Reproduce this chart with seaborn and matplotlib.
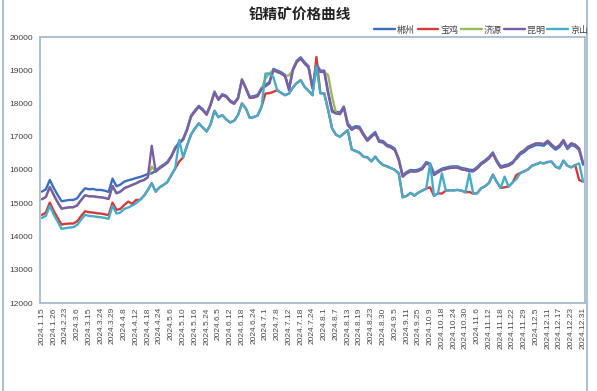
import numpy as np
import pandas as pd
import matplotlib
matplotlib.use("Agg")
import matplotlib.pyplot as plt
from matplotlib.lines import Line2D
import seaborn as sns

cities = ["郴州", "宝鸡", "济源", "昆明", "京山"]
colors = ["#3c6ec0", "#d23b38", "#9bbb59", "#7b5ca8", "#46adc8"]

tick_labels = ['2024.1.15', '2024.1.26', '2024.2.23', '2024.3.6', '2024.3.15', '2024.3.24', '2024.3.29',
               '2024.4.8', '2024.4.12', '2024.4.18', '2024.4.24', '2024.5.6', '2024.5.10', '2024.5.16',
               '2024.5.24', '2024.6.5', '2024.6.12', '2024.6.18', '2024.6.24', '2024.7.1', '2024.7.8',
               '2024.7.12', '2024.7.18', '2024.7.24', '2024.8.1', '2024.8.7', '2024.8.13', '2024.8.19',
               '2024.8.23', '2024.8.30', '2024.9.5', '2024.9.11', '2024.9.25', '2024.10.9', '2024.10.18',
               '2024.10.24', '2024.10.30', '2024.11.6', '2024.11.12', '2024.11.18', '2024.11.22',
               '2024.11.29', '2024.12.5', '2024.12.11', '2024.12.17', '2024.12.23', '2024.12.31']

chenzhou = [15350, 15420, 15700, 15460, 15250, 15060, 15080, 15100, 15100, 15150, 15320, 15450, 15420, 15430,
            15400, 15400, 15380, 15340, 15740, 15510, 15560, 15650, 15690, 15720, 15760, 15790,
            15830, 15880, 15900, 15980, 16080, 16160, 16250, 16430, 16680, 16830, 16940, 17230, 17630, 17790,
            17930, 17830, 17690, 17980, 18360, 18140, 18280, 18230, 18090, 18020, 18180, 18730, 18480, 18200,
            18220, 18260, 18470, 18560, 18640, 19040, 18990, 18940, 18860, 18440, 19040, 19290, 19390, 19240,
            19120, 18490, 19190, 18990, 18990, 18340, 17790, 17750, 17730, 17910, 17400, 17260, 17320, 17300,
            17090, 16920, 17040, 17140, 16890, 16870, 16760, 16720, 16640, 16340, 15840, 15940, 16000, 15990,
            16010, 16070, 16240, 16190, 15900, 15970, 16040, 16070, 16100, 16110, 16110, 16060, 16040, 16010,
            16000, 16090, 16210, 16290, 16390, 16530, 16290, 16110, 16140, 16170, 16240,
            16330, 16470, 16540, 16650, 16700, 16750, 16750, 16730, 16830, 16710, 16610, 16690, 16850, 16630,
            16750, 16710, 16600, 16160]

baoji = [14650, 14720, 15020, 14770, 14560, 14360, 14380, 14390, 14390, 14460, 14620, 14760, 14730, 14720,
         14700, 14690, 14670, 14640, 15020, 14800, 14830, 14950, 15050, 14980, 15100,
         15100, 15220, 15400, 15600, 15350, 15480, 15550, 15640, 15850, 16050, 16250, 16380, 16730, 17060,
         17250, 17400, 17280, 17160, 17370, 17780, 17590, 17650, 17520, 17430, 17480, 17650, 18000, 17850, 17570,
         17590, 17640, 17900, 18300, 18310, 18350, 18400, 18320, 18250, 18300, 18480, 18620, 18700, 18500,
         18380, 18250, 19400, 18310, 18300, 17800, 17250, 17060, 17000, 17100, 17200, 16620, 16570, 16520,
         16400, 16380, 16260, 16400, 16250, 16150, 16110, 16060, 16000, 15900, 15180, 15220, 15310, 15230,
         15320, 15380, 15440, 15480, 15220, 15300, 15290, 15380, 15390, 15390, 15400, 15380, 15330, 15340,
         15290, 15300, 15450, 15510, 15610, 15860, 15640, 15460, 15480, 15500, 15620, 15850, 15910, 15960,
         16020, 16130, 16170, 16220, 16200, 16240, 16250, 16100, 16050, 16280, 16130, 16080, 16150, 15700, 15650]

jiyuan = [15120, 15190, 15490, 15250, 15030, 14840, 14860, 14880, 14880, 14940, 15100, 15240, 15210, 15210,
          15190, 15180, 15160, 15130, 15520, 15300, 15350, 15450, 15500, 15550, 15600, 15660,
          15700, 15780, 16100, 15950, 16050, 16130, 16220, 16400, 16650, 16800, 16910, 17200, 17600, 17760,
          17900, 17800, 17660, 17950, 18330, 18110, 18250, 18200, 18060, 17990, 18150, 18700, 18450, 18170,
          18180, 18220, 18430, 18750, 18900, 19000, 18950, 18900, 18820, 18850, 19000, 19250, 19350, 19200,
          19080, 18450, 19150, 18950, 18950, 18850, 18200, 17700, 17680, 17870, 17350, 17210, 17280, 17250,
          17050, 16880, 17000, 17100, 16850, 16830, 16720, 16680, 16600, 16300, 15800, 15900, 15960, 15950,
          15970, 16030, 16200, 16150, 15850, 15930, 16000, 16030, 16060, 16070, 16070, 16020, 16000, 15970,
          15960, 16050, 16170, 16250, 16350, 16490, 16250, 16070, 16100, 16130, 16200, 16380, 16520, 16590,
          16700, 16750, 16800, 16800, 16780, 16880, 16760, 16660, 16740, 16900, 16680, 16800, 16760, 16650, 16210]

kunming = [15120, 15190, 15490, 15250, 15030, 14840, 14860, 14880, 14880, 14940, 15100, 15240, 15210, 15210,
           15190, 15180, 15160, 15130, 15520, 15300, 15350, 15450, 15500, 15550, 15600, 15660,
           15700, 15780, 16730, 15950, 16050, 16130, 16220, 16400, 16650, 16800, 16910, 17200, 17600, 17760,
           17900, 17800, 17660, 17950, 18330, 18110, 18250, 18200, 18060, 17990, 18150, 18700, 18450, 18170,
           18180, 18220, 18430, 18520, 18600, 19000, 18950, 18900, 18820, 18400, 19000, 19250, 19350, 19200,
           19080, 18450, 19150, 18950, 18950, 18300, 17750, 17700, 17680, 17870, 17350, 17210, 17280, 17250,
           17050, 16880, 17000, 17100, 16850, 16830, 16720, 16680, 16600, 16300, 15800, 15900, 15960, 15950,
           15970, 16030, 16200, 16150, 15850, 15930, 16000, 16030, 16060, 16070, 16070, 16020, 16000, 15970,
           15960, 16050, 16170, 16250, 16350, 16490, 16250, 16070, 16100, 16130, 16200, 16380, 16520, 16590,
           16700, 16750, 16800, 16800, 16780, 16880, 16760, 16660, 16740, 16900, 16680, 16800, 16760, 16650, 16210]

jingshan = [14560, 14620, 14920, 14660, 14450, 14230, 14250, 14270, 14280, 14350, 14510, 14650, 14620, 14610,
            14590, 14580, 14560, 14530, 14920, 14690, 14720, 14830, 14870, 14930, 15000, 15100,
            15220, 15400, 15600, 15350, 15480, 15550, 15640, 15850, 16050, 16900, 16380, 16730, 17060, 17250,
            17400, 17280, 17160, 17370, 17780, 17590, 17650, 17520, 17430, 17480, 17650, 18000, 17850, 17570,
            17590, 17640, 17900, 18900, 18900, 18800, 18400, 18320, 18250, 18300, 18480, 18620, 18700, 18500,
            18380, 18250, 19100, 18310, 18300, 17800, 17250, 17060, 17000, 17100, 17200, 16620, 16570, 16520,
            16400, 16380, 16260, 16400, 16250, 16150, 16110, 16060, 16000, 15900, 15180, 15220, 15310, 15230,
            15320, 15380, 15440, 16200, 15220, 15300, 15900, 15380, 15390, 15390, 15400, 15380, 15330, 15900,
            15290, 15300, 15450, 15510, 15610, 15860, 15640, 15460, 15800, 15500, 15620, 15730, 15910, 15960,
            16020, 16130, 16170, 16220, 16200, 16240, 16250, 16100, 16050, 16280, 16130, 16080, 16150, 16200, 15660]

series = [chenzhou, baoji, jiyuan, kunming, jingshan]
frames = []
for name, vals in zip(cities, series):
    frames.append(pd.DataFrame({"idx": np.arange(len(vals)), "price": vals, "city": name}))
df = pd.concat(frames, ignore_index=True)

sns.set_style("white")
plt.rcParams["font.family"] = ["Liberation Sans", "Noto Sans CJK SC"]

fig = plt.figure(figsize=(5.97, 3.91), dpi=100)
ax = fig.add_axes([40 / 597, 1 - 303 / 391, 545 / 597, 266 / 391])

sns.lineplot(data=df, x="idx", y="price", hue="city", hue_order=cities, palette=colors,
             linewidth=1.7, estimator=None, sort=False, legend=False, ax=ax)

n = len(chenzhou)
ax.set_xlim(-0.5, n - 0.5)
ax.set_ylim(12000, 20000)
ax.set_yticks(np.arange(12000, 20001, 1000))
ax.set_yticklabels([str(v) for v in range(12000, 20001, 1000)], fontsize=6, color="#404040")
step = (n - 1) // (len(tick_labels) - 1)
ax.set_xticks(np.arange(0, n, step))
ax.set_xticklabels(tick_labels, rotation=90, fontsize=6, color="#4a4a4a")
ax.tick_params(axis="both", length=0)
ax.tick_params(axis="x", pad=3)
ax.tick_params(axis="y", pad=5)
ax.set_xlabel("")
ax.set_ylabel("")
ax.grid(False)
for sp in ax.spines.values():
    sp.set_visible(True)
    sp.set_color("#a7bccf")
    sp.set_linewidth(1.3)

fig.text(0.502, 1 - 14 / 391, "铅精矿价格曲线", ha="center", va="center", fontsize=10.5,
         fontweight="bold", family=["Noto Sans CJK SC"], color="#222222")

handles = [Line2D([0], [0], color=c, linewidth=1.7) for c in colors]
fig.legend(handles, cities, loc="center right", bbox_to_anchor=(0.985, 1 - 30 / 391), ncol=5,
           frameon=False, fontsize=6.5, handlelength=2.3, handletextpad=0.2, columnspacing=0.3,
           borderaxespad=0, borderpad=0, labelcolor="#404040")

for xx in (3 / 597, 587 / 597):
    fig.add_artist(Line2D([xx, xx], [0, 1], transform=fig.transFigure, color="#a7bccf", linewidth=1.3))

fig.savefig("out.png", dpi=100, facecolor="white")
